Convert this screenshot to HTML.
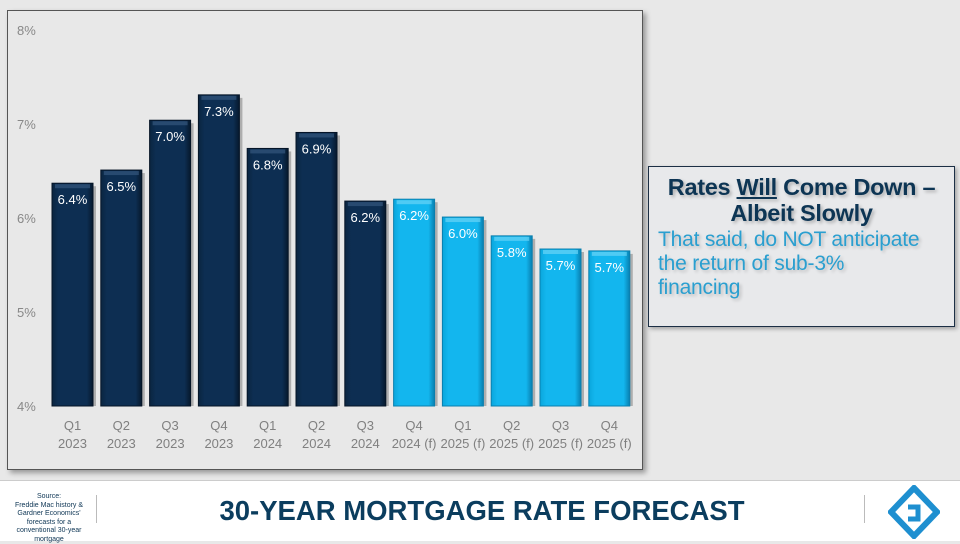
<!DOCTYPE html>
<html><head><meta charset="utf-8"><style>
body{margin:0;width:960px;height:540px;overflow:hidden;background:#e8e8e8;font-family:"Liberation Sans",sans-serif;position:relative}
#panel{position:absolute;left:7px;top:10px;width:634px;height:458px;border:1px solid #555;box-shadow:3px 3px 5px rgba(0,0,0,.35);background:#e8e8e8}
#footer{position:absolute;left:0;top:480px;width:960px;height:60px;background:#fff;border-top:1px solid #ccc}
#callout{position:absolute;left:648px;top:166px;width:305px;height:159px;border:1px solid #1c2f45;box-shadow:2px 2px 4px rgba(0,0,0,.3);background:#e8e9eb}
</style></head><body>
<div id="panel"></div>
<svg id="chart" width="960" height="480" style="position:absolute;left:0;top:0">
<defs>
<linearGradient id="gd" x1="0" x2="1" y1="0" y2="0"><stop offset="0" stop-color="#0a2540"/><stop offset=".15" stop-color="#0d2e52"/><stop offset=".85" stop-color="#0d2e52"/><stop offset="1" stop-color="#06182c"/></linearGradient>
<linearGradient id="gl" x1="0" x2="1" y1="0" y2="0"><stop offset="0" stop-color="#0aa6dc"/><stop offset=".15" stop-color="#13b6ee"/><stop offset=".85" stop-color="#13b6ee"/><stop offset="1" stop-color="#087fb0"/></linearGradient>
</defs>
<g id="g"></g>
</svg>
<div id="callout">
<div style="text-align:center;font-weight:bold;font-size:23.5px;color:#0d3554;margin-top:7px;line-height:26px;letter-spacing:-0.3px;text-shadow:2px 2px 3px rgba(0,0,0,.25)">Rates <u>Will</u> Come Down –<br>Albeit Slowly</div>
<div style="font-size:21px;color:#2a9fd0;margin:2px 0 0 9px;line-height:24px;letter-spacing:-0.2px;text-shadow:2px 2px 3px rgba(0,0,0,.2)">That said, do NOT anticipate<br>the return of sub-3%<br>financing</div>
</div>
<div id="footer">
<div style="position:absolute;left:2px;top:12px;width:94px;text-align:center;font-size:7px;line-height:8.5px;color:#0d3554">Source:<br>Freddie Mac history &amp;<br>Gardner Economics'<br>forecasts for a<br>conventional 30-year<br>mortgage</div>
<div style="position:absolute;left:96px;top:14px;width:1px;height:28px;background:#bbb"></div>
<div style="position:absolute;left:0;width:964px;top:14px;text-align:center;font-weight:bold;font-size:27.5px;color:#0b3d5e">30-YEAR MORTGAGE RATE FORECAST</div>
<div style="position:absolute;left:864px;top:14px;width:1px;height:28px;background:#bbb"></div>
<svg style="position:absolute;left:888px;top:4px" width="52" height="54"><path d="M26 3 L49 27 L26 51 L3 27 Z" fill="none" stroke="#1e8fd0" stroke-width="6"/><path d="M20 22 L30 22 L30 34 L20 34" fill="none" stroke="#1e8fd0" stroke-width="5"/></svg>
</div>
<script>
const categories=["Q1|2023","Q2|2023","Q3|2023","Q4|2023","Q1|2024","Q2|2024","Q3|2024","Q4|2024 (f)","Q1|2025 (f)","Q2|2025 (f)","Q3|2025 (f)","Q4|2025 (f)"];
const values=[6.37,6.51,7.04,7.31,6.74,6.91,6.18,6.20,6.01,5.81,5.67,5.65];
const labels=["6.4%","6.5%","7.0%","7.3%","6.8%","6.9%","6.2%","6.2%","6.0%","5.8%","5.7%","5.7%"];
const forecast=[0,0,0,0,0,0,0,1,1,1,1,1];
const yTicks=[4,5,6,7,8];
const NS="http://www.w3.org/2000/svg";
const g=document.getElementById('g');
const y=v=>406-(v-4)*94;
const x=i=>52+i*48.8;
const bw=41;
function mk(t,a){const e=document.createElementNS(NS,t);for(const k in a)e.setAttribute(k,a[k]);g.appendChild(e);return e;}
yTicks.forEach(t=>{const e=mk('text',{x:17,y:y(t)+5,'font-size':13,fill:'#888'});e.textContent=t+'%';

});
values.forEach((v,i)=>{
 const sh=mk('rect',{x:x(i)+3,y:y(v)+3,width:bw,height:406-y(v)-3,fill:'rgba(0,0,0,0.25)'});
 
 
 const r=mk('rect',{x:x(i),y:y(v),width:bw,height:406-y(v),fill:forecast[i]?'url(#gl)':'url(#gd)',stroke:forecast[i]?'#0a7fae':'#051426','stroke-width':1});
 
 
 const hi=mk('rect',{x:x(i)+3,y:y(v)+1,width:bw-6,height:4,fill:forecast[i]?'#6ad4f7':'#34577e',opacity:0.7});
 
 
 const t=mk('text',{x:x(i)+bw/2,y:y(v)+21,'font-size':13,fill:'#fff','text-anchor':'middle'});t.textContent=labels[i];
 
 
 const [a,b]=categories[i].split('|');
 const t1=mk('text',{x:x(i)+bw/2,y:430,'font-size':13,fill:'#808080','text-anchor':'middle'});t1.textContent=a;
 
 
 const t2=mk('text',{x:x(i)+bw/2,y:448,'font-size':13,fill:'#808080','text-anchor':'middle'});t2.textContent=b;
 
 
});
</script>
</body></html>
